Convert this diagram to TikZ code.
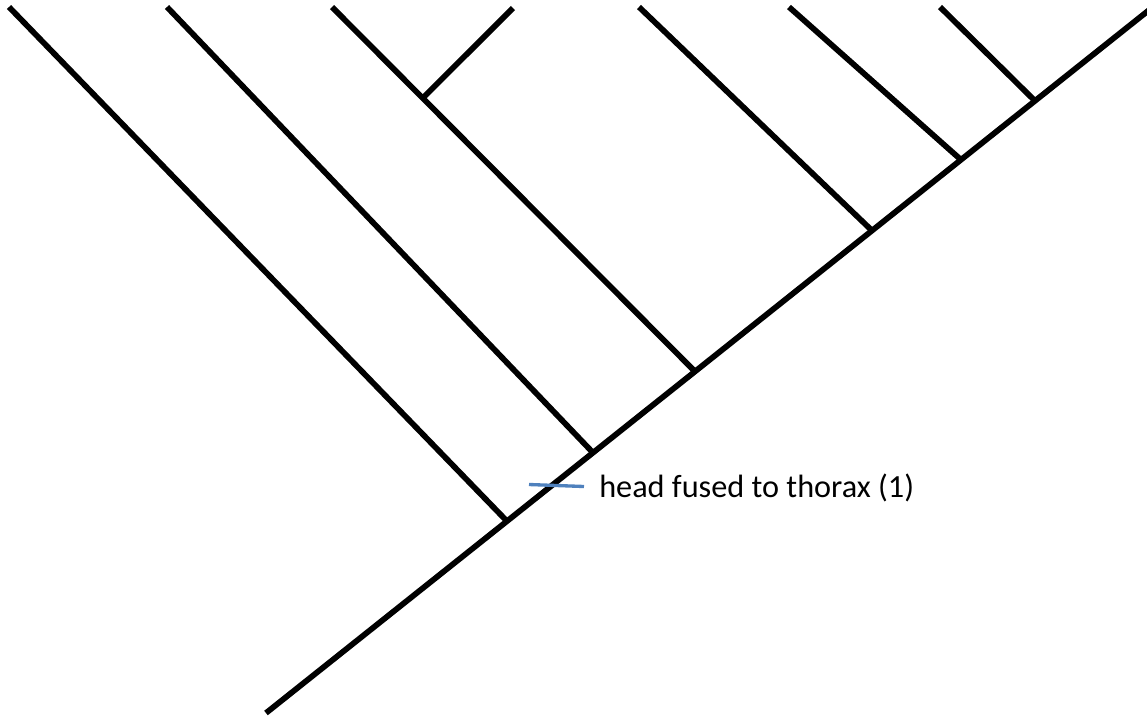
\documentclass[tikz,border=0pt]{standalone}
\usepackage{fontspec}
\setmainfont{Carlito}
\usetikzlibrary{calc}
\definecolor{markblue}{RGB}{79,129,189}
\tikzset{
  branchline/.style={line width=4.3pt, black, line cap=butt},
  charline/.style={line width=2.5pt, markblue},
  charlabel/.style={anchor=base west, inner sep=0pt, font=\fontsize{24.2pt}{28pt}\selectfont}
}
\begin{document}
\begin{tikzpicture}[x=0.75pt,y=-0.75pt]
\useasboundingbox (0,0) rectangle (1147,719);
% trunk
\coordinate (r0) at (266,713);
\coordinate (r1) at (1152,7.7);
% junctions on the trunk
\coordinate (j1) at (507,521.2);
\coordinate (j2) at (593,452.7);
\coordinate (j3) at (695,371.5);
\coordinate (j4) at (872,230.6);
\coordinate (j5) at (961,159.8);
\coordinate (j6) at (1035,100.9);
% leaf tips
\coordinate (t1) at (9,7);
\coordinate (t2) at (167,7);
\coordinate (t3) at (332,7);
\coordinate (t4) at (639,7);
\coordinate (t5) at (789,7);
\coordinate (t6) at (940,7);
\coordinate (tb) at (513,8);
\coordinate (jb) at ($(t3)!0.25!(j3)$);
% character mark
\coordinate (c0) at (529,484.5);
\coordinate (c1) at (584,486.5);

\draw[branchline] (r0) -- (r1);
\draw[branchline] (t1) -- (j1);
\draw[branchline] (t2) -- (j2);
\draw[branchline] (t3) -- (j3);
\draw[branchline] (tb) -- (jb);
\draw[branchline] (t4) -- (j4);
\draw[branchline] (t5) -- (j5);
\draw[branchline] (t6) -- (j6);

\draw[charline] (c0) -- (c1);
\node[charlabel] (lab) at (599,497) {head fused to thorax (1)};
\end{tikzpicture}
\end{document}
